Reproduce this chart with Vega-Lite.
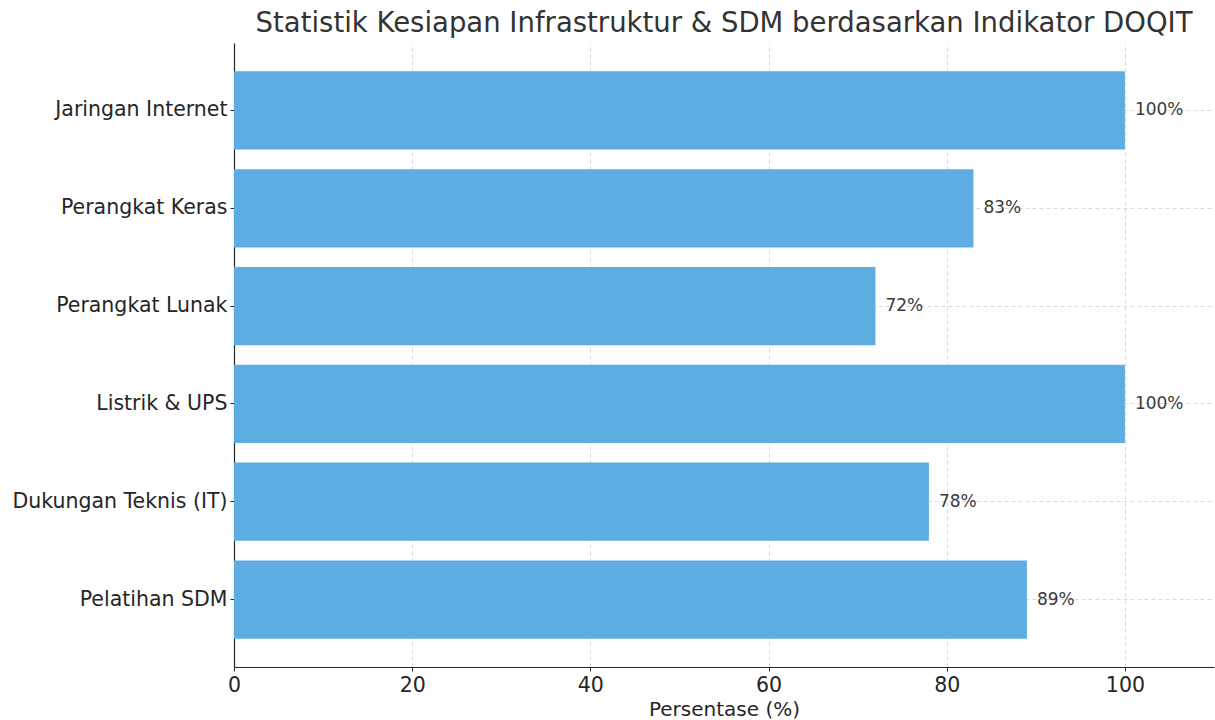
{
  "$schema": "https://vega.github.io/schema/vega-lite/v6.json",
  "width": 980,
  "height": 624,
  "autosize": {"type": "none"},
  "padding": {"left": 234, "top": 43, "right": 1, "bottom": 53},
  "background": "white",
  "title": {
    "text": "Statistik Kesiapan Infrastruktur & SDM berdasarkan Indikator DOQIT",
    "font": "DejaVu Sans",
    "fontSize": 27.5,
    "fontWeight": "normal",
    "color": "#333333",
    "anchor": "middle",
    "offset": 6
  },
  "config": {
    "view": {"stroke": null},
    "font": "DejaVu Sans"
  },
  "data": {
    "values": [
      {"kategori": "Jaringan Internet", "persen": 100, "label": "100%"},
      {"kategori": "Perangkat Keras", "persen": 83, "label": "83%"},
      {"kategori": "Perangkat Lunak", "persen": 72, "label": "72%"},
      {"kategori": "Listrik & UPS", "persen": 100, "label": "100%"},
      {"kategori": "Dukungan Teknis (IT)", "persen": 78, "label": "78%"},
      {"kategori": "Pelatihan SDM", "persen": 89, "label": "89%"}
    ]
  },
  "encoding": {
    "y": {
      "field": "kategori",
      "type": "nominal",
      "sort": null,
      "scale": {"paddingInner": 0.2, "paddingOuter": 0.29},
      "axis": {
        "title": null,
        "labelFont": "DejaVu Sans",
        "labelFontSize": 20.5,
        "labelColor": "#262626",
        "labelLimit": 0,
        "labelPadding": 3,
        "tickSize": 4,
        "tickColor": "#262626",
        "domainColor": "#262626",
        "domainWidth": 1.2,
        "grid": true,
        "gridColor": "#d0d0d0",
        "gridDash": [4, 3],
        "gridWidth": 0.8
      }
    },
    "x": {
      "field": "persen",
      "type": "quantitative",
      "scale": {"domain": [0, 110], "nice": false},
      "axis": {
        "title": "Persentase (%)",
        "titleFont": "DejaVu Sans",
        "titleFontSize": 20,
        "titleFontWeight": "normal",
        "titleColor": "#262626",
        "titlePadding": 4,
        "values": [0, 20, 40, 60, 80, 100],
        "labelFlush": false,
        "labelFont": "DejaVu Sans",
        "labelFontSize": 20.5,
        "labelColor": "#262626",
        "labelPadding": 4,
        "tickSize": 4,
        "tickColor": "#262626",
        "domainColor": "#262626",
        "domainWidth": 1.2,
        "grid": true,
        "gridColor": "#d0d0d0",
        "gridDash": [4, 3],
        "gridWidth": 0.8
      }
    }
  },
  "layer": [
    {
      "mark": {"type": "bar", "color": "#5DADE2"}
    },
    {
      "mark": {"type": "text", "align": "left", "baseline": "middle", "dx": 10, "fontSize": 17, "color": "#3a3a3a", "font": "DejaVu Sans"},
      "encoding": {
        "text": {"field": "label", "type": "nominal"}
      }
    }
  ]
}
